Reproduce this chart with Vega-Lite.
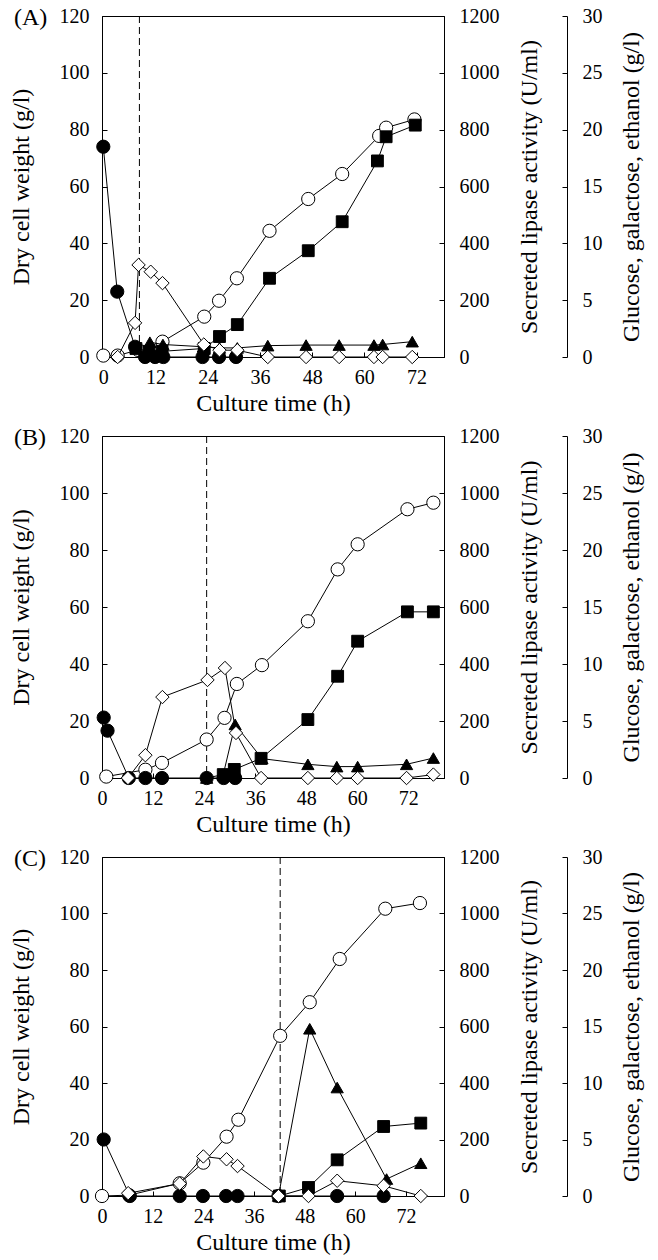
{
  "$schema": "https://vega.github.io/schema/vega-lite/v6.json",
  "autosize": {"type": "none"},
  "padding": {"left": 102, "top": 16, "right": 556, "bottom": 1244},
  "background": "white",
  "datasets": {
    "A": [
      {"s": "switch", "t": 8.3, "v": 0},
      {"s": "dcw", "t": 0, "v": 0.5}, {"s": "dcw", "t": 3.3, "v": 0.5}, {"s": "dcw", "t": 8, "v": 2.5}, {"s": "dcw", "t": 13.6, "v": 5.4}, {"s": "dcw", "t": 23.2, "v": 14.2}, {"s": "dcw", "t": 26.6, "v": 19.8}, {"s": "dcw", "t": 30.7, "v": 27.7}, {"s": "dcw", "t": 38.2, "v": 44.4}, {"s": "dcw", "t": 47.1, "v": 55.6}, {"s": "dcw", "t": 54.9, "v": 64.4}, {"s": "dcw", "t": 63.4, "v": 77.8}, {"s": "dcw", "t": 65, "v": 80.7}, {"s": "dcw", "t": 71.5, "v": 83.6},
      {"s": "lipase", "t": 7.5, "v": 30}, {"s": "lipase", "t": 10.5, "v": 20}, {"s": "lipase", "t": 13.5, "v": 20}, {"s": "lipase", "t": 23.2, "v": 30}, {"s": "lipase", "t": 26.7, "v": 72}, {"s": "lipase", "t": 30.8, "v": 114}, {"s": "lipase", "t": 38.2, "v": 277}, {"s": "lipase", "t": 47.1, "v": 374}, {"s": "lipase", "t": 54.9, "v": 476}, {"s": "lipase", "t": 63, "v": 690}, {"s": "lipase", "t": 65, "v": 775}, {"s": "lipase", "t": 71.7, "v": 816},
      {"s": "glucose", "t": 0, "v": 18.5}, {"s": "glucose", "t": 3.2, "v": 5.75}, {"s": "glucose", "t": 7.3, "v": 0.9}, {"s": "glucose", "t": 9.6, "v": 0}, {"s": "glucose", "t": 11.9, "v": 0}, {"s": "glucose", "t": 13.8, "v": 0}, {"s": "glucose", "t": 22.8, "v": 0}, {"s": "glucose", "t": 26.6, "v": 0}, {"s": "glucose", "t": 30.5, "v": 0},
      {"s": "galactose", "t": 3.3, "v": 0}, {"s": "galactose", "t": 7.3, "v": 3}, {"s": "galactose", "t": 8.1, "v": 8.1}, {"s": "galactose", "t": 10.9, "v": 7.5}, {"s": "galactose", "t": 13.6, "v": 6.5}, {"s": "galactose", "t": 23.1, "v": 1.1}, {"s": "galactose", "t": 26.7, "v": 0.6}, {"s": "galactose", "t": 30.8, "v": 0.6}, {"s": "galactose", "t": 37.8, "v": 0}, {"s": "galactose", "t": 46.6, "v": 0}, {"s": "galactose", "t": 54.2, "v": 0}, {"s": "galactose", "t": 62.2, "v": 0}, {"s": "galactose", "t": 64.2, "v": 0}, {"s": "galactose", "t": 71, "v": 0},
      {"s": "ethanol", "t": 10.7, "v": 1.3}, {"s": "ethanol", "t": 13.7, "v": 1.1}, {"s": "ethanol", "t": 23, "v": 0.9}, {"s": "ethanol", "t": 26.7, "v": 0.8}, {"s": "ethanol", "t": 30.8, "v": 0.8}, {"s": "ethanol", "t": 37.8, "v": 1.0}, {"s": "ethanol", "t": 46.6, "v": 1.05}, {"s": "ethanol", "t": 54.2, "v": 1.05}, {"s": "ethanol", "t": 62.2, "v": 1.05}, {"s": "ethanol", "t": 64.2, "v": 1.1}, {"s": "ethanol", "t": 71, "v": 1.35}
    ],
    "B": [
      {"s": "switch", "t": 24.6, "v": 0},
      {"s": "dcw", "t": 1, "v": 0.5}, {"s": "dcw", "t": 10.2, "v": 2.9}, {"s": "dcw", "t": 14.1, "v": 5.3}, {"s": "dcw", "t": 24.6, "v": 13.5}, {"s": "dcw", "t": 28.8, "v": 21.1}, {"s": "dcw", "t": 31.7, "v": 33}, {"s": "dcw", "t": 37.6, "v": 39.6}, {"s": "dcw", "t": 48.4, "v": 55}, {"s": "dcw", "t": 55.4, "v": 73.2}, {"s": "dcw", "t": 60.1, "v": 82}, {"s": "dcw", "t": 71.8, "v": 94.3}, {"s": "dcw", "t": 77.9, "v": 96.6},
      {"s": "lipase", "t": 28.5, "v": 12}, {"s": "lipase", "t": 31.1, "v": 30}, {"s": "lipase", "t": 37.4, "v": 69}, {"s": "lipase", "t": 48.4, "v": 205}, {"s": "lipase", "t": 55.4, "v": 357}, {"s": "lipase", "t": 60.1, "v": 480}, {"s": "lipase", "t": 71.8, "v": 583}, {"s": "lipase", "t": 77.9, "v": 583},
      {"s": "glucose", "t": 0.4, "v": 5.3}, {"s": "glucose", "t": 1.3, "v": 4.15}, {"s": "glucose", "t": 6.3, "v": 0}, {"s": "glucose", "t": 10.2, "v": 0}, {"s": "glucose", "t": 14.1, "v": 0}, {"s": "glucose", "t": 24.6, "v": 0}, {"s": "glucose", "t": 28.6, "v": 0}, {"s": "glucose", "t": 31.3, "v": 0},
      {"s": "galactose", "t": 6.1, "v": 0}, {"s": "galactose", "t": 10.2, "v": 2.0}, {"s": "galactose", "t": 14.2, "v": 7.1}, {"s": "galactose", "t": 24.8, "v": 8.6}, {"s": "galactose", "t": 28.9, "v": 9.65}, {"s": "galactose", "t": 31.5, "v": 3.95}, {"s": "galactose", "t": 37.4, "v": 0}, {"s": "galactose", "t": 48.4, "v": 0}, {"s": "galactose", "t": 55.2, "v": 0}, {"s": "galactose", "t": 60.1, "v": 0}, {"s": "galactose", "t": 71.6, "v": 0}, {"s": "galactose", "t": 77.9, "v": 0.3},
      {"s": "ethanol", "t": 24.6, "v": 0}, {"s": "ethanol", "t": 28.5, "v": 0.3}, {"s": "ethanol", "t": 31.3, "v": 4.7}, {"s": "ethanol", "t": 37.6, "v": 1.7}, {"s": "ethanol", "t": 48.4, "v": 1.2}, {"s": "ethanol", "t": 55.2, "v": 1.0}, {"s": "ethanol", "t": 60.1, "v": 1.0}, {"s": "ethanol", "t": 71.6, "v": 1.2}, {"s": "ethanol", "t": 77.9, "v": 1.75}
    ],
    "C": [
      {"s": "switch", "t": 42.2, "v": 0},
      {"s": "dcw", "t": 0, "v": 0}, {"s": "dcw", "t": 6.4, "v": 0.3}, {"s": "dcw", "t": 18.4, "v": 4.5}, {"s": "dcw", "t": 24, "v": 11.8}, {"s": "dcw", "t": 29.5, "v": 21}, {"s": "dcw", "t": 32.3, "v": 27}, {"s": "dcw", "t": 42.2, "v": 56.7}, {"s": "dcw", "t": 49.2, "v": 68.6}, {"s": "dcw", "t": 56.3, "v": 83.9}, {"s": "dcw", "t": 67.1, "v": 101.7}, {"s": "dcw", "t": 75.3, "v": 103.7},
      {"s": "lipase", "t": 42, "v": 0}, {"s": "lipase", "t": 48.9, "v": 30}, {"s": "lipase", "t": 55.7, "v": 128}, {"s": "lipase", "t": 66.7, "v": 246}, {"s": "lipase", "t": 75.5, "v": 258},
      {"s": "glucose", "t": 0.4, "v": 5.0}, {"s": "glucose", "t": 6.6, "v": 0}, {"s": "glucose", "t": 18.4, "v": 0}, {"s": "glucose", "t": 23.9, "v": 0}, {"s": "glucose", "t": 29.4, "v": 0}, {"s": "glucose", "t": 32.1, "v": 0}, {"s": "glucose", "t": 41.8, "v": 0}, {"s": "glucose", "t": 55.7, "v": 0}, {"s": "glucose", "t": 66.7, "v": 0},
      {"s": "galactose", "t": 6.2, "v": 0.25}, {"s": "galactose", "t": 18.4, "v": 1.1}, {"s": "galactose", "t": 24, "v": 3.5}, {"s": "galactose", "t": 29.5, "v": 3.25}, {"s": "galactose", "t": 32.1, "v": 2.65}, {"s": "galactose", "t": 41.8, "v": 0}, {"s": "galactose", "t": 48.9, "v": 0}, {"s": "galactose", "t": 55.7, "v": 1.35}, {"s": "galactose", "t": 66.7, "v": 0.9}, {"s": "galactose", "t": 75.5, "v": 0},
      {"s": "ethanol", "t": 41.8, "v": 0}, {"s": "ethanol", "t": 49.2, "v": 14.8}, {"s": "ethanol", "t": 55.7, "v": 9.6}, {"s": "ethanol", "t": 67.4, "v": 1.5}, {"s": "ethanol", "t": 75.5, "v": 2.9}
    ]
  },
  "vconcat": [
    {
      "data": {"name": "A"},
      "width": 342, "height": 341,
      "title": {"text": "(A)"},
      "encoding": {"x": {"field": "t", "type": "quantitative", "scale": {"domain": [-0.3, 78.3], "nice": false, "zero": false}, "axis": {"values": [0, 12, 24, 36, 48, 60, 72], "title": "Culture time (h)", "format": "d"}}},
      "layer": [
        {"transform": [{"filter": "datum.s === 'switch'"}], "mark": {"type": "rule", "color": "black", "strokeWidth": 1, "strokeDash": [7, 4]}, "encoding": {}},
        {"encoding": {"y": {"field": "v", "type": "quantitative", "scale": {"domain": [0, 120], "nice": false}, "axis": {"values": [0, 20, 40, 60, 80, 100, 120], "format": "d", "title": "Dry cell weight (g/l)"}}},
         "layer": [
          {"transform": [{"filter": "datum.s === 'dcw'"}], "mark": {"type": "line", "color": "black", "strokeWidth": 1}, "encoding": {}},
          {"transform": [{"filter": "datum.s === 'dcw'"}], "mark": {"type": "point", "shape": "circle", "filled": true, "fill": "white", "stroke": "black", "strokeWidth": 1, "size": 175, "opacity": 1}, "encoding": {}}
        ]},
        {"encoding": {"y": {"field": "v", "type": "quantitative", "scale": {"domain": [0, 1200], "nice": false}, "axis": {"orient": "right", "values": [0, 200, 400, 600, 800, 1000, 1200], "format": "d", "title": "Secreted lipase activity (U/ml)", "titleAngle": 270, "titleBaseline": "top", "labelPadding": 20, "titlePadding": 18}}},
         "layer": [
          {"transform": [{"filter": "datum.s === 'lipase'"}], "mark": {"type": "line", "color": "black", "strokeWidth": 1}, "encoding": {}},
          {"transform": [{"filter": "datum.s === 'lipase'"}], "mark": {"type": "point", "shape": "square", "filled": true, "fill": "black", "stroke": "black", "strokeWidth": 1, "size": 140, "opacity": 1}, "encoding": {}}
        ]},
        {"encoding": {"y": {"field": "v", "type": "quantitative", "scale": {"domain": [0, 30], "nice": false}, "axis": {"orient": "right", "offset": 123, "values": [0, 5, 10, 15, 20, 25, 30], "format": "d", "title": "Glucose, galactose, ethanol (g/l)", "titleAngle": 270, "titleBaseline": "top", "labelPadding": 20, "titlePadding": 17}}},
         "layer": [
          {"transform": [{"filter": "datum.s === 'glucose' || datum.s === 'galactose' || datum.s === 'ethanol'"}], "mark": {"type": "line", "color": "black", "strokeWidth": 1}, "encoding": {"detail": {"field": "s", "type": "nominal"}}},
          {"transform": [{"filter": "datum.s === 'glucose'"}], "mark": {"type": "point", "shape": "circle", "filled": true, "fill": "black", "stroke": "black", "strokeWidth": 1, "size": 175, "opacity": 1}, "encoding": {}},
          {"transform": [{"filter": "datum.s === 'ethanol'"}], "mark": {"type": "point", "shape": "triangle-up", "filled": true, "fill": "black", "stroke": "black", "strokeWidth": 1, "size": 150, "opacity": 1}, "encoding": {}},
          {"transform": [{"filter": "datum.s === 'galactose'"}], "mark": {"type": "point", "shape": "diamond", "filled": true, "fill": "white", "stroke": "black", "strokeWidth": 1, "size": 180, "opacity": 1}, "encoding": {}}
        ]}
      ],
      "resolve": {"scale": {"y": "independent"}}
    },
    {
      "data": {"name": "B"},
      "width": 342, "height": 342,
      "title": {"text": "(B)"},
      "encoding": {"x": {"field": "t", "type": "quantitative", "scale": {"domain": [0, 80.4], "nice": false, "zero": false}, "axis": {"values": [0, 12, 24, 36, 48, 60, 72], "title": "Culture time (h)", "format": "d"}}},
      "layer": [
        {"transform": [{"filter": "datum.s === 'switch'"}], "mark": {"type": "rule", "color": "black", "strokeWidth": 1, "strokeDash": [7, 4]}, "encoding": {}},
        {"encoding": {"y": {"field": "v", "type": "quantitative", "scale": {"domain": [0, 120], "nice": false}, "axis": {"values": [0, 20, 40, 60, 80, 100, 120], "format": "d", "title": "Dry cell weight (g/l)"}}},
         "layer": [
          {"transform": [{"filter": "datum.s === 'dcw'"}], "mark": {"type": "line", "color": "black", "strokeWidth": 1}, "encoding": {}},
          {"transform": [{"filter": "datum.s === 'dcw'"}], "mark": {"type": "point", "shape": "circle", "filled": true, "fill": "white", "stroke": "black", "strokeWidth": 1, "size": 175, "opacity": 1}, "encoding": {}}
        ]},
        {"encoding": {"y": {"field": "v", "type": "quantitative", "scale": {"domain": [0, 1200], "nice": false}, "axis": {"orient": "right", "values": [0, 200, 400, 600, 800, 1000, 1200], "format": "d", "title": "Secreted lipase activity (U/ml)", "titleAngle": 270, "titleBaseline": "top", "labelPadding": 20, "titlePadding": 18}}},
         "layer": [
          {"transform": [{"filter": "datum.s === 'lipase'"}], "mark": {"type": "line", "color": "black", "strokeWidth": 1}, "encoding": {}},
          {"transform": [{"filter": "datum.s === 'lipase'"}], "mark": {"type": "point", "shape": "square", "filled": true, "fill": "black", "stroke": "black", "strokeWidth": 1, "size": 140, "opacity": 1}, "encoding": {}}
        ]},
        {"encoding": {"y": {"field": "v", "type": "quantitative", "scale": {"domain": [0, 30], "nice": false}, "axis": {"orient": "right", "offset": 123, "values": [0, 5, 10, 15, 20, 25, 30], "format": "d", "title": "Glucose, galactose, ethanol (g/l)", "titleAngle": 270, "titleBaseline": "top", "labelPadding": 20, "titlePadding": 17}}},
         "layer": [
          {"transform": [{"filter": "datum.s === 'glucose' || datum.s === 'galactose' || datum.s === 'ethanol'"}], "mark": {"type": "line", "color": "black", "strokeWidth": 1}, "encoding": {"detail": {"field": "s", "type": "nominal"}}},
          {"transform": [{"filter": "datum.s === 'glucose'"}], "mark": {"type": "point", "shape": "circle", "filled": true, "fill": "black", "stroke": "black", "strokeWidth": 1, "size": 175, "opacity": 1}, "encoding": {}},
          {"transform": [{"filter": "datum.s === 'ethanol'"}], "mark": {"type": "point", "shape": "triangle-up", "filled": true, "fill": "black", "stroke": "black", "strokeWidth": 1, "size": 150, "opacity": 1}, "encoding": {}},
          {"transform": [{"filter": "datum.s === 'galactose'"}], "mark": {"type": "point", "shape": "diamond", "filled": true, "fill": "white", "stroke": "black", "strokeWidth": 1, "size": 180, "opacity": 1}, "encoding": {}}
        ]}
      ],
      "resolve": {"scale": {"y": "independent"}}
    },
    {
      "data": {"name": "C"},
      "width": 342, "height": 339,
      "title": {"text": "(C)"},
      "encoding": {"x": {"field": "t", "type": "quantitative", "scale": {"domain": [0, 81], "nice": false, "zero": false}, "axis": {"values": [0, 12, 24, 36, 48, 60, 72], "title": "Culture time (h)", "format": "d"}}},
      "layer": [
        {"transform": [{"filter": "datum.s === 'switch'"}], "mark": {"type": "rule", "color": "black", "strokeWidth": 1, "strokeDash": [7, 4]}, "encoding": {}},
        {"encoding": {"y": {"field": "v", "type": "quantitative", "scale": {"domain": [0, 120], "nice": false}, "axis": {"values": [0, 20, 40, 60, 80, 100, 120], "format": "d", "title": "Dry cell weight (g/l)"}}},
         "layer": [
          {"transform": [{"filter": "datum.s === 'dcw'"}], "mark": {"type": "line", "color": "black", "strokeWidth": 1}, "encoding": {}},
          {"transform": [{"filter": "datum.s === 'dcw'"}], "mark": {"type": "point", "shape": "circle", "filled": true, "fill": "white", "stroke": "black", "strokeWidth": 1, "size": 175, "opacity": 1}, "encoding": {}}
        ]},
        {"encoding": {"y": {"field": "v", "type": "quantitative", "scale": {"domain": [0, 1200], "nice": false}, "axis": {"orient": "right", "values": [0, 200, 400, 600, 800, 1000, 1200], "format": "d", "title": "Secreted lipase activity (U/ml)", "titleAngle": 270, "titleBaseline": "top", "labelPadding": 20, "titlePadding": 18}}},
         "layer": [
          {"transform": [{"filter": "datum.s === 'lipase'"}], "mark": {"type": "line", "color": "black", "strokeWidth": 1}, "encoding": {}},
          {"transform": [{"filter": "datum.s === 'lipase'"}], "mark": {"type": "point", "shape": "square", "filled": true, "fill": "black", "stroke": "black", "strokeWidth": 1, "size": 140, "opacity": 1}, "encoding": {}}
        ]},
        {"encoding": {"y": {"field": "v", "type": "quantitative", "scale": {"domain": [0, 30], "nice": false}, "axis": {"orient": "right", "offset": 123, "values": [0, 5, 10, 15, 20, 25, 30], "format": "d", "title": "Glucose, galactose, ethanol (g/l)", "titleAngle": 270, "titleBaseline": "top", "labelPadding": 20, "titlePadding": 17}}},
         "layer": [
          {"transform": [{"filter": "datum.s === 'glucose' || datum.s === 'galactose' || datum.s === 'ethanol'"}], "mark": {"type": "line", "color": "black", "strokeWidth": 1}, "encoding": {"detail": {"field": "s", "type": "nominal"}}},
          {"transform": [{"filter": "datum.s === 'glucose'"}], "mark": {"type": "point", "shape": "circle", "filled": true, "fill": "black", "stroke": "black", "strokeWidth": 1, "size": 175, "opacity": 1}, "encoding": {}},
          {"transform": [{"filter": "datum.s === 'ethanol'"}], "mark": {"type": "point", "shape": "triangle-up", "filled": true, "fill": "black", "stroke": "black", "strokeWidth": 1, "size": 150, "opacity": 1}, "encoding": {}},
          {"transform": [{"filter": "datum.s === 'galactose'"}], "mark": {"type": "point", "shape": "diamond", "filled": true, "fill": "white", "stroke": "black", "strokeWidth": 1, "size": 180, "opacity": 1}, "encoding": {}}
        ]}
      ],
      "resolve": {"scale": {"y": "independent"}}
    }
  ],
  "spacing": 79,
  "bounds": "flush",
  "config": {
    "font": "Liberation Serif, Times New Roman, serif",
    "view": {"stroke": "black", "strokeWidth": 1},
    "axis": {
      "grid": false,
      "domainColor": "black", "domainWidth": 1,
      "tickColor": "black", "tickSize": -5, "tickWidth": 1,
      "labelFont": "Liberation Serif, Times New Roman, serif", "labelFontSize": 20, "labelColor": "black", "labelPadding": 18, "labelFlush": false, "labelOverlap": false,
      "titleFont": "Liberation Serif, Times New Roman, serif", "titleFontSize": 24, "titleFontWeight": "normal", "titleColor": "black", "titlePadding": 26
    },
    "axisX": {"labelPadding": 15, "titlePadding": 4},
    "title": {"font": "Liberation Serif, Times New Roman, serif", "fontSize": 24, "fontWeight": "normal", "color": "black", "anchor": "start", "frame": "bounds", "offset": 0, "baseline": "top", "dy": 28, "dx": 5}
  }
}
